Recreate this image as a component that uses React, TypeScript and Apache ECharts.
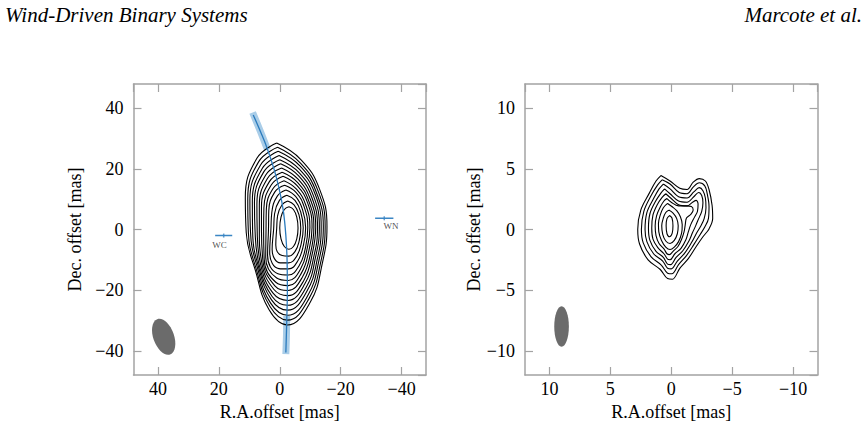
import React, { useEffect, useRef } from 'react';
import * as echarts from 'echarts';

// ---------- data (in mas) ----------
const leftContours: number[][][] = [
  [[1, 28.5], [-7, 23], [-13, 13.5], [-15.5, 1], [-14, -11], [-10, -24], [-2.5, -31.5], [3.5, -26.5], [8, -13.5], [11, -1], [11.3, 10.5], [7.5, 23.5]],
  [[0.7, 27.1], [-6.8, 21.9], [-12.5, 12.9], [-14.9, 1], [-13.5, -10.5], [-9.6, -22.8], [-2.5, -29.9], [3.2, -25.4], [7.7, -13.1], [10.3, -0.9], [10.5, 10.1], [6.9, 22.4]],
  [[0.5, 25.8], [-6.7, 20.9], [-12, 12.3], [-14.3, 0.9], [-12.9, -10], [-9.3, -21.6], [-2.6, -28.3], [3, -24.3], [7.3, -12.7], [9.6, -0.8], [9.8, 9.7], [6.3, 21.3]],
  [[0.2, 24.4], [-6.5, 19.8], [-11.6, 11.7], [-13.6, 0.9], [-12.4, -9.4], [-8.9, -20.4], [-2.6, -26.6], [2.7, -23.2], [7, -12.2], [8.9, -0.7], [9, 9.2], [5.7, 20.2]],
  [[0, 23], [-6.4, 18.7], [-11.1, 11], [-13, 0.9], [-11.8, -8.9], [-8.6, -19.2], [-2.6, -25], [2.5, -22.1], [6.7, -11.8], [8.1, -0.6], [8.3, 8.8], [5.2, 19.1]],
  [[-0.3, 21.7], [-6.2, 17.7], [-10.6, 10.4], [-12.4, 0.8], [-11.3, -8.4], [-8.2, -18], [-2.7, -23.4], [2.2, -21], [6.3, -11.4], [7.4, -0.5], [7.5, 8.4], [4.6, 18]],
  [[-0.6, 20.3], [-6, 16.6], [-10.1, 9.8], [-11.8, 0.8], [-10.7, -7.9], [-7.9, -16.8], [-2.7, -21.8], [1.9, -19.8], [5.9, -10.9], [6.7, -0.4], [6.7, 8], [4, 16.9]],
  [[-0.8, 18.9], [-5.9, 15.5], [-9.6, 9.2], [-11.2, 0.8], [-10.2, -7.4], [-7.5, -15.6], [-2.7, -20.1], [1.6, -18.6], [5.5, -10.4], [6, -0.3], [6, 7.5], [3.4, 15.8]],
  [[-1.1, 17.6], [-5.7, 14.5], [-9.2, 8.6], [-10.6, 0.7], [-9.6, -6.8], [-7.1, -14.4], [-2.8, -18.5], [1.3, -17.4], [5.1, -9.8], [5.3, -0.2], [5.2, 7.1], [2.8, 14.7]],
  [[-1.4, 16.1], [-5.5, 13.3], [-8.6, 7.9], [-9.9, 0.7], [-9, -6.3], [-6.8, -13.1], [-2.8, -16.8], [1, -16], [4.6, -9.2], [4.5, -0.1], [4.4, 6.7], [2.2, 13.5]],
  [[-1.6, 14.6], [-5.4, 12.2], [-8.1, 7.2], [-9.2, 0.7], [-8.5, -5.7], [-6.4, -11.9], [-2.8, -15], [0.6, -14.6], [4, -8.5], [3.7, 0], [3.6, 6.2], [1.6, 12.4]],
  [[-2, 13], [-5.2, 10.9], [-7.5, 6.5], [-8.5, 0.6], [-7.8, -5.1], [-5.9, -10.4], [-2.9, -13], [0.3, -12.9], [3.3, -7.6], [2.9, 0.1], [2.6, 5.7], [0.8, 11]],
  [[-2.3, 11.3], [-5, 9.6], [-6.9, 5.7], [-7.7, 0.6], [-7.1, -4.4], [-5.5, -8.9], [-2.9, -11], [-0.2, -11], [2.5, -6.6], [2, 0.2], [1.7, 5.2], [0.1, 9.6]],
  [[-2.6, 9.4], [-4.7, 8.1], [-6.3, 4.9], [-6.9, 0.5], [-6.4, -3.7], [-5, -7.3], [-3, -8.8], [-0.8, -8.6], [1.3, -5.1], [1, 0.4], [0.7, 4.6], [-0.7, 8.1]],
  [[-3, 7.5], [-4.5, 6.6], [-5.6, 4], [-6, 0.5], [-5.6, -3], [-4.5, -5.6], [-3, -6.5], [-1.5, -5.6], [-0.4, -3], [0, 0.5], [-0.4, 4], [-1.5, 6.6]],
];

const rightContours: number[][][] = [
  [[0.85, 4.45], [0.1, 4.0], [-0.7, 3.4], [-1.3, 3.3], [-1.8, 3.9], [-2.3, 4.2], [-2.8, 4.0], [-3.1, 3.3], [-3.35, 2.0], [-3.4, 0.9], [-3.1, 0.05], [-2.6, -0.6], [-2.05, -1.4], [-1.4, -2.4], [-0.7, -3.2], [-0.1, -4.1], [0.3, -4.05], [0.9, -3.3], [1.9, -2.5], [2.6, -1.2], [2.75, 0], [2.5, 1.6], [1.8, 3.0], [1.25, 4.0]],
  [[0.75, 4.1], [0.1, 3.75], [-0.65, 3.05], [-1.3, 2.95], [-1.8, 3.5], [-2.3, 3.85], [-2.75, 3.6], [-2.95, 2.95], [-3.1, 1.9], [-3.05, 0.9], [-2.75, 0.2], [-2.35, -0.45], [-1.85, -1.25], [-1.25, -2.15], [-0.6, -2.9], [-0.05, -3.65], [0.3, -3.6], [0.8, -2.95], [1.65, -2.25], [2.3, -1.1], [2.45, 0], [2.25, 1.5], [1.65, 2.8], [1.1, 3.7]],
  [[0.65, 3.75], [0.1, 3.35], [-0.6, 2.7], [-1.3, 2.6], [-1.85, 3.1], [-2.3, 3.45], [-2.6, 3.2], [-2.8, 2.6], [-2.85, 1.8], [-2.7, 0.9], [-2.4, 0.25], [-2.05, -0.35], [-1.65, -1.1], [-1.1, -1.95], [-0.5, -2.6], [0, -3.25], [0.3, -3.2], [0.7, -2.6], [1.45, -2.0], [2.0, -1.0], [2.15, 0], [2.0, 1.4], [1.45, 2.55], [1.0, 3.35]],
  [[0.55, 3.35], [0.1, 2.95], [-0.6, 2.35], [-1.3, 2.25], [-1.85, 2.7], [-2.25, 3.05], [-2.5, 2.8], [-2.6, 2.2], [-2.5, 1.5], [-2.25, 0.9], [-2.0, 0.3], [-1.75, -0.25], [-1.45, -0.95], [-0.95, -1.75], [-0.4, -2.3], [0.05, -2.9], [0.3, -2.85], [0.65, -2.3], [1.25, -1.8], [1.75, -0.9], [1.87, 0.1], [1.75, 1.3], [1.3, 2.3], [0.85, 3.0]],
  [[0.45, 2.95], [0.05, 2.6], [-0.6, 2.05], [-1.3, 1.95], [-1.75, 2.25], [-2.05, 2.4], [-2.2, 2.1], [-2.15, 1.5], [-1.9, 1.0], [-1.6, 0.4], [-1.4, -0.2], [-1.2, -0.85], [-0.8, -1.55], [-0.3, -2.0], [0.1, -2.5], [0.3, -2.45], [0.6, -2.0], [1.1, -1.5], [1.5, -0.8], [1.6, 0.1], [1.5, 1.2], [1.15, 2.05], [0.75, 2.65]],
  [[0.35, 2.55], [0, 2.25], [-0.6, 1.95], [-1.2, 1.95], [-1.65, 1.9], [-1.8, 1.6], [-1.6, 1.25], [-1.25, 0.95], [-1.15, 0.4], [-1.05, -0.2], [-0.85, -0.8], [-0.55, -1.4], [-0.15, -1.8], [0.15, -2.07], [0.35, -2.0], [0.6, -1.6], [1.0, -1.15], [1.25, -0.5], [1.32, 0.3], [1.2, 1.15], [0.9, 1.85], [0.6, 2.35]],
  [[0.3, 2.15], [-0.05, 1.9], [-0.45, 1.55], [-0.75, 1.05], [-0.9, 0.4], [-0.85, -0.3], [-0.6, -1.0], [-0.25, -1.45], [0.1, -1.65], [0.45, -1.45], [0.8, -0.9], [1.02, -0.2], [1.05, 0.5], [0.9, 1.2], [0.65, 1.8]],
  [[0.2, 1.6], [-0.15, 1.35], [-0.45, 0.9], [-0.57, 0.3], [-0.5, -0.35], [-0.25, -0.9], [0.1, -1.15], [0.45, -0.95], [0.7, -0.4], [0.78, 0.3], [0.65, 0.95], [0.45, 1.4]],
  [[0.14, 1.15], [-0.06, 0.95], [-0.14, 0.3], [-0.08, -0.3], [0.14, -0.6], [0.35, -0.35], [0.42, 0.3], [0.35, 0.9]],
];

// projected trajectory (left panel) and its uncertainty band ends
const trajectory: number[][] = [[8.7, 37.8], [6.2, 32], [4.2, 27], [1.9, 20], [0.1, 13], [-1.2, 6], [-2.0, -2], [-2.4, -10], [-2.5, -20], [-2.3, -30], [-2.0, -40.6]];
const bandTop: number[][] = [[8.9, 38.6], [6.2, 32], [4.0, 26.3]];
const bandBottom: number[][] = [[-2.3, -28.5], [-2.2, -35], [-2.0, -41.1]];

// stars: [x, y, halfError]
const starWC = [18.4, -2.0, 2.8];
const starWN = [-34.3, 3.7, 3.0];
const starLabels: (string | number)[][] = [[19.8, -5.1, 'WC'], [-36.5, 1.1, 'WN']];

// synthesized beams: [x, y, semiMinor, semiMajor, angleDeg]
const leftBeam = [38.1, -35.4, 3.4, 6.2, 20];
const rightBeam = [9.0, -8.0, 0.6, 1.67, 0];

const leftRange = [-48, 48];
const rightRange = [-12, 12];

const headerLeft = 'Wind-Driven Binary Systems';
const headerRight = 'Marcote et al.';
const xName = 'R.A.offset [mas]';
const yName = 'Dec. offset [mas]';

// ---------- chart ----------
const FONT = '"Liberation Serif", "Times New Roman", serif';
const FRAME = '#a3a3a3';

const fmt = (v: number) => (v < 0 ? '\u2212' + Math.abs(v) : String(v));

function closeRing(pts: number[][]) {
  return pts.concat([pts[0]]);
}

function axesFor(gridIndex: number, range: number[], nameGapY: number) {
  const common = {
    gridIndex,
    type: 'value',
    min: range[0],
    max: range[1],
    splitLine: { show: false },
    axisLine: { show: true, onZero: false, lineStyle: { color: FRAME, width: 1.5 } },
    axisTick: { show: true, inside: true, length: 8, lineStyle: { color: FRAME, width: 1.2 } },
  };
  const labelStyle = { color: '#000', fontFamily: FONT, fontSize: 18, formatter: fmt, showMinLabel: false, showMaxLabel: false };
  const x = [
    {
      ...common, position: 'bottom', inverse: true,
      axisLabel: { ...labelStyle, margin: 5 },
      name: xName, nameLocation: 'middle', nameGap: 25,
      nameTextStyle: { color: '#000', fontFamily: FONT, fontSize: 18 },
    },
    { ...common, position: 'top', inverse: true, axisLabel: { show: false } },
  ];
  const y = [
    {
      ...common, position: 'left',
      axisLabel: { ...labelStyle, margin: 10 },
      name: yName, nameLocation: 'middle', nameGap: nameGapY,
      nameTextStyle: { color: '#000', fontFamily: FONT, fontSize: 18 },
    },
    { ...common, position: 'right', axisLabel: { show: false } },
  ];
  return { x, y };
}

function beamSeries(beam: number[], xi: number, yi: number) {
  return {
    type: 'custom',
    xAxisIndex: xi,
    yAxisIndex: yi,
    silent: true,
    z: 2,
    data: [beam],
    renderItem: (_params: any, api: any) => {
      const c = api.coord([api.value(0), api.value(1)]);
      const s = api.size([api.value(2), api.value(3)]);
      return {
        type: 'ellipse',
        x: c[0],
        y: c[1],
        rotation: (api.value(4) * Math.PI) / 180,
        shape: { cx: 0, cy: 0, rx: Math.abs(s[0]), ry: Math.abs(s[1]) },
        style: { fill: '#6b6b6b' },
      };
    },
  };
}

function contourSeries(rings: number[][][], xi: number, yi: number, smooth: number) {
  return rings.map((r) => ({
    type: 'line',
    xAxisIndex: xi,
    yAxisIndex: yi,
    data: closeRing(r),
    symbol: 'none',
    smooth,
    silent: true,
    z: 3,
    lineStyle: { color: '#000', width: 1.1 },
  }));
}

function starSeries(star: number[]) {
  return [
    {
      type: 'line', xAxisIndex: 0, yAxisIndex: 0, symbol: 'none', silent: true, z: 4,
      data: [[star[0] - star[2], star[1]], [star[0] + star[2], star[1]]],
      lineStyle: { color: '#3b86c4', width: 1.4 },
    },
    {
      type: 'scatter', xAxisIndex: 0, yAxisIndex: 0, silent: true, z: 4,
      data: [[star[0], star[1]]], symbol: 'rect', symbolSize: [1.5, 4],
      itemStyle: { color: '#3b86c4' },
    },
  ];
}

export default function App() {
  const ref = useRef<HTMLDivElement>(null);
  useEffect(() => {
    if (!ref.current) return;
    const chart = echarts.init(ref.current, null, { renderer: 'svg' });
    const a0 = axesFor(0, leftRange, 50);
    const a1 = axesFor(1, rightRange, 35);
    const option: any = {
      animation: false,
      backgroundColor: '#fff',
      grid: [
        { left: 133.5, top: 84, width: 292.5, height: 291, outerBoundsMode: 'none' },
        { left: 525, top: 84, width: 292.5, height: 291, outerBoundsMode: 'none' },
      ],
      xAxis: [...a0.x, ...a1.x],
      yAxis: [...a0.y, ...a1.y],
      graphic: [
        { type: 'text', x: 5, y: 15, style: { text: headerLeft, font: `italic 21px ${FONT}`, fill: '#000', verticalAlign: 'middle', align: 'left' } },
        { type: 'text', x: 862, y: 15, style: { text: headerRight, font: `italic 21px ${FONT}`, fill: '#000', verticalAlign: 'middle', align: 'right' } },
      ],
      series: [
        beamSeries(leftBeam, 0, 0),
        beamSeries(rightBeam, 2, 2),
        {
          type: 'line', xAxisIndex: 0, yAxisIndex: 0, data: bandTop, symbol: 'none', smooth: 0.3, silent: true, z: 2,
          lineStyle: { color: '#a9cde8', width: 7, cap: 'butt' },
        },
        {
          type: 'line', xAxisIndex: 0, yAxisIndex: 0, data: bandBottom, symbol: 'none', smooth: 0.3, silent: true, z: 2,
          lineStyle: { color: '#a9cde8', width: 7, cap: 'butt' },
        },
        ...contourSeries(leftContours, 0, 0, 0.45),
        ...contourSeries(rightContours, 2, 2, 0.35),
        {
          type: 'line', xAxisIndex: 0, yAxisIndex: 0, data: trajectory, symbol: 'none', smooth: 0.4, silent: true, z: 5,
          lineStyle: { color: '#2b7bbd', width: 1.3 },
        },
        ...starSeries(starWC),
        ...starSeries(starWN),
        {
          type: 'scatter', xAxisIndex: 0, yAxisIndex: 0, silent: true, z: 5,
          data: starLabels.map((d) => ({ value: [d[0], d[1]], name: d[2] })),
          symbolSize: 0,
          label: {
            show: true, position: 'inside', formatter: (p: any) => p.name,
            color: '#222', fontFamily: FONT, fontSize: 9,
          },
        },
      ],
    };
    chart.setOption(option);
    return () => chart.dispose();
  }, []);
  return <div ref={ref} style={{ position: 'fixed', left: 0, top: 0, width: 866, height: 435, background: '#fff' }} />;
}
